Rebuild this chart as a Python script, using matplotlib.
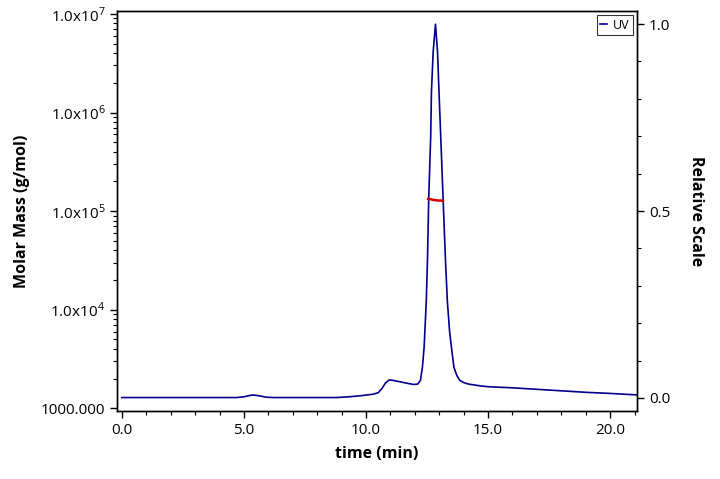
import matplotlib
matplotlib.use("Agg")
import matplotlib.pyplot as plt
from matplotlib.ticker import FixedLocator, LogLocator, MultipleLocator, FuncFormatter, NullFormatter

plt.rcParams['font.family'] = ['Open Sans', 'DejaVu Sans']
plt.rcParams['mathtext.fontset'] = 'custom'
plt.rcParams['mathtext.rm'] = 'Open Sans'

# UV trace (relative scale)
uv_time = [0.0, 4.7, 5.0, 5.35, 5.6, 5.9, 6.2, 8.8, 9.3, 9.8, 10.3, 10.5, 10.65, 10.8,
           10.95, 11.1, 11.4, 11.7, 11.95, 12.12, 12.23, 12.31, 12.38, 12.47, 12.52,
           12.57, 12.65, 12.68, 12.75, 12.845, 12.93, 12.99, 13.06, 13.155, 13.25,
           13.33, 13.42, 13.5, 13.6, 13.72, 13.84, 14.0, 14.2, 14.7, 15.0, 16.0, 17.0,
           18.0, 19.0, 20.0, 21.1]
uv_value = [0.001, 0.001, 0.003, 0.008, 0.006, 0.002, 0.001, 0.001, 0.003, 0.006, 0.010,
            0.014, 0.025, 0.040, 0.048, 0.047, 0.043, 0.039, 0.036, 0.037, 0.047, 0.082,
            0.135, 0.261, 0.376, 0.537, 0.70, 0.818, 0.925, 0.9997, 0.925, 0.818, 0.70,
            0.537, 0.376, 0.261, 0.18, 0.135, 0.082, 0.06, 0.047, 0.041, 0.037, 0.032,
            0.030, 0.027, 0.023, 0.019, 0.015, 0.012, 0.008]

# Molar mass across the peak
mm_time = [12.55, 12.65, 12.75, 12.85, 12.95, 13.05, 13.15]
mm_value = [1.33e5, 1.32e5, 1.30e5, 1.29e5, 1.28e5, 1.28e5, 1.275e5]

left_ticks = [1e3, 1e4, 1e5, 1e6, 1e7]
left_labels = ["1000.000", "1.0x10$^{4}$", "1.0x10$^{5}$", "1.0x10$^{6}$", "1.0x10$^{7}$"]

fig = plt.figure(figsize=(7.2, 4.79), dpi=100)
ax = fig.add_axes([117/720, 1-411/479, (637-117)/720, (411-11)/479])
ax2 = ax.twinx()

ax.set_yscale('log')
ax.set_ylim(940, 1.07e7)
ax.set_xlim(-0.2, 21.1)
ax.yaxis.set_major_locator(FixedLocator(left_ticks))
ax.yaxis.set_major_formatter(FuncFormatter(lambda v, p: left_labels[left_ticks.index(v)] if v in left_ticks else ""))
ax.yaxis.set_minor_locator(LogLocator(base=10, subs=range(2, 10)))
ax.yaxis.set_minor_formatter(NullFormatter())
ax.xaxis.set_major_locator(MultipleLocator(5))
ax.xaxis.set_minor_locator(MultipleLocator(1))
ax.xaxis.set_major_formatter(FuncFormatter(lambda v, p: f"{v:.1f}"))

ax2.set_ylim(-0.035, 1.035)
ax2.yaxis.set_major_locator(MultipleLocator(0.5))
ax2.yaxis.set_minor_locator(MultipleLocator(0.1))
ax2.yaxis.set_major_formatter(FuncFormatter(lambda v, p: f"{v:.1f}"))

for a in (ax, ax2):
    a.tick_params(which='major', direction='out', length=5, width=1, labelsize=11, color='black')
    a.tick_params(which='minor', direction='out', length=3, width=0.8, color='black')
    for s in a.spines.values():
        s.set_linewidth(1)

ax.plot(mm_time, mm_value, color='#cc0000', lw=1.8, zorder=5)
ax2.plot(uv_time, uv_value, color='#00008b', lw=1.2, label='UV')
ax.set_zorder(ax2.get_zorder() + 1)
ax.patch.set_visible(False)

ax.set_xlabel('time (min)', fontsize=11.5, fontweight='bold', labelpad=6)
ax.set_ylabel('Molar Mass (g/mol)', fontsize=11.5, fontweight='bold', labelpad=8)
ax2.set_ylabel('Relative Scale', fontsize=11.5, fontweight='bold', rotation=-90, labelpad=24)

leg = ax2.legend(loc='upper right', fontsize=9, frameon=True, fancybox=False,
                 handlelength=0.5, handletextpad=0.5, borderpad=0.25,
                 borderaxespad=0.35, edgecolor='black')
leg.get_frame().set_linewidth(0.8)

fig.savefig('out.png', dpi=100)
